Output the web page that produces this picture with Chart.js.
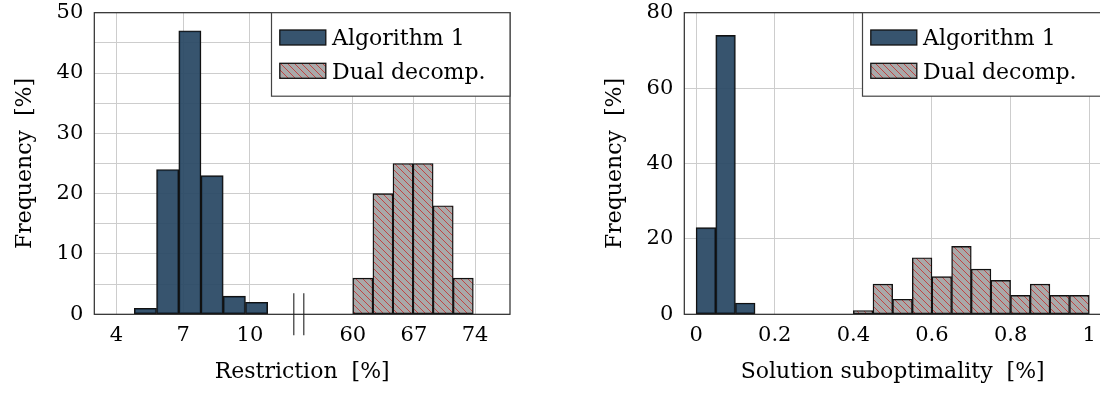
<!DOCTYPE html>
<html><head><meta charset="utf-8">
<script src="https://cdn.jsdelivr.net/npm/chart.js@4"></script>
<style>
html,body{margin:0;padding:0;background:#fff;overflow:hidden;width:1100px;height:394px;}
#w1{position:absolute;left:0;top:0;width:520px;height:394px;}
#w2{position:absolute;left:560px;top:0;width:560px;height:394px;}
canvas{display:block;}
</style></head><body>
<div id="w1"><canvas id="c1" width="520" height="394"></canvas></div>
<div id="w2"><canvas id="c2" width="560" height="394"></canvas></div>
<script>
// ---------- data ----------
const seriesNames = ['Algorithm 1', 'Dual decomp.'];

const restrictionAlgBinStart = [4.8, 5.8, 6.8, 7.8, 8.8, 9.8];
const restrictionAlgFreq = [1, 24, 47, 23, 3, 2];
const restrictionAlgBinWidth = 1;
const restrictionDualBinStart = [60.0, 62.3, 64.6, 66.9, 69.2, 71.5];
const restrictionDualFreq = [6, 20, 25, 25, 18, 6];
const restrictionDualBinWidth = 2.3;
const restrictionTicksLow = [4, 7, 10];
const restrictionTicksHigh = [60, 67, 74];
const freqTicksLeft = [0, 10, 20, 30, 40, 50];

const suboptAlgBinStart = [0, 0.05, 0.10];
const suboptAlgFreq = [23, 74, 3];
const suboptDualBinStart = [0.40, 0.45, 0.50, 0.55, 0.60, 0.65, 0.70, 0.75, 0.80, 0.85, 0.90, 0.95];
const suboptDualFreq = [1, 8, 4, 15, 10, 18, 12, 9, 5, 8, 5, 5];
const suboptBinWidth = 0.05;
const suboptTicks = [0, 0.2, 0.4, 0.6, 0.8, 1];
const freqTicksRight = [0, 20, 40, 60, 80];

// ---------- styling ----------
const FONT = 'DejaVu Serif';
Chart.defaults.font.family = FONT;
Chart.defaults.color = '#000';
const algColor = 'rgba(40,71,99,0.93)';
const gridColor = '#cdcdcd';
function hatch() {
  const s = 7, c = document.createElement('canvas');
  c.width = s; c.height = s;
  const g = c.getContext('2d');
  g.fillStyle = '#a9a9a9'; g.fillRect(0, 0, s, s);
  g.strokeStyle = '#c23a3a'; g.lineWidth = 0.9;
  g.beginPath();
  g.moveTo(0, 0); g.lineTo(s, s);
  g.moveTo(-1, s - 1); g.lineTo(1, s + 1);
  g.moveTo(s - 1, -1); g.lineTo(s + 1, 1);
  g.stroke();
  return g.createPattern(c, 'repeat');
}
const dualFill = hatch();

function bins(starts, width, freq) {
  return starts.map((s, i) => ({x: s + width / 2, y: freq[i]}));
}
function noPad(s) { s.paddingTop = 0; s.paddingBottom = 0; s.paddingLeft = 0; s.paddingRight = 0; }

const framePlugin = {
  id: 'frameLegend',
  afterDatasetsDraw(chart, args, o) {
    const {ctx, chartArea: a} = chart;
    ctx.save();
    ctx.strokeStyle = '#2b2b2b'; ctx.lineWidth = 1.2;
    ctx.strokeRect(a.left, a.top, a.right - a.left, a.bottom - a.top);
    if (o.breakAt !== undefined) {
      const px = chart.scales.x.getPixelForValue(o.breakAt);
      ctx.strokeStyle = '#222'; ctx.lineWidth = 1.1;
      ctx.beginPath();
      [-5, 5].forEach(d => { ctx.moveTo(px + d, a.bottom - 21); ctx.lineTo(px + d, a.bottom + 21); });
      ctx.stroke();
    }
    const lx = a.right - o.width, ly = a.top;
    ctx.fillStyle = '#fff'; ctx.fillRect(lx, ly, o.width, o.height);
    ctx.strokeStyle = '#444'; ctx.lineWidth = 1.2;
    ctx.strokeRect(lx, ly, o.width, o.height);
    ctx.font = '22px "' + FONT + '"';
    ctx.textBaseline = 'alphabetic'; ctx.textAlign = 'left';
    chart.data.datasets.forEach((ds, i) => {
      const sy = ly + 17.3 + i * 33.3;
      ctx.fillStyle = ds.backgroundColor;
      ctx.fillRect(lx + 8.3, sy, 46, 15);
      ctx.strokeStyle = '#111'; ctx.lineWidth = 1.3;
      ctx.strokeRect(lx + 8.3, sy, 46, 15);
      ctx.fillStyle = '#000';
      ctx.fillText(ds.label, lx + 60.5, sy + 15.3);
    });
    ctx.restore();
  }
};

function barDs(label, data, fill, axis) {
  const d = {label, data, backgroundColor: fill, borderColor: '#111', borderWidth: 1.4,
    borderSkipped: false, barPercentage: 1, categoryPercentage: 1, grouped: false};
  if (axis) d.xAxisID = axis;
  return d;
}

function yAxis(max, step, labels, width, titlePad) {
  return {
    type: 'linear', min: 0, max,
    border: {display: false},
    grid: {color: gridColor, lineWidth: 1, drawTicks: false},
    ticks: {stepSize: step, padding: 11, font: {size: 21, lineHeight: 1},
      callback: v => labels.includes(v) ? String(v) : ''},
    title: {display: true, text: 'Frequency  [%]', font: {size: 22}, padding: {top: titlePad, bottom: 0}},
    afterFit: s => { s.width = width; noPad(s); }
  };
}

// ---------- left chart ----------
const xMin = 3, xMax = 21.7, x2Min = 30.4, x2Max = 78;
const toMain = v => xMin + (v - x2Min) / (x2Max - x2Min) * (xMax - xMin);
const leftLabels = [...restrictionTicksLow, ...restrictionTicksHigh].map(String);

new Chart(document.getElementById('c1'), {
  type: 'bar',
  data: {datasets: [
    barDs(seriesNames[0], bins(restrictionAlgBinStart, restrictionAlgBinWidth, restrictionAlgFreq), algColor),
    barDs(seriesNames[1], bins(restrictionDualBinStart, restrictionDualBinWidth, restrictionDualFreq), dualFill, 'x2')
  ]},
  options: {
    responsive: false, animation: false, devicePixelRatio: 1,
    layout: {padding: {top: 12.7, right: 10, left: 0, bottom: 0}},
    plugins: {legend: {display: false}, tooltip: {enabled: false},
      frameLegend: {width: 238.5, height: 83.5, breakAt: 12.2}},
    scales: {
      x: {
        type: 'linear', min: xMin, max: xMax, offset: false, position: 'bottom',
        border: {display: false},
        grid: {color: gridColor, lineWidth: 1, drawTicks: false, offset: false},
        ticks: {padding: 9, autoSkip: false, maxRotation: 0, font: {size: 21},
          callback: (v, i) => leftLabels[i]},
        afterBuildTicks: s => {
          s.ticks = [...restrictionTicksLow.map(v => ({value: v})),
                     ...restrictionTicksHigh.map(v => ({value: toMain(v)}))];
        },
        title: {display: true, text: 'Restriction  [%]', font: {size: 22}, padding: {top: 0, bottom: 9}},
        afterFit: s => { s.height = 79.7; noPad(s); }
      },
      x2: {type: 'linear', min: x2Min, max: x2Max, display: false, offset: false, position: 'bottom',
        afterFit: s => { s.height = 0; noPad(s); }},
      y: yAxis(50, 5, freqTicksLeft, 94.3, 11.8)
    }
  },
  plugins: [framePlugin]
});

// ---------- right chart ----------
new Chart(document.getElementById('c2'), {
  type: 'bar',
  data: {datasets: [
    barDs(seriesNames[0], bins(suboptAlgBinStart, suboptBinWidth, suboptAlgFreq), algColor),
    barDs(seriesNames[1], bins(suboptDualBinStart, suboptBinWidth, suboptDualFreq), dualFill)
  ]},
  options: {
    responsive: false, animation: false, devicePixelRatio: 1,
    layout: {padding: {top: 12.7, right: 19, left: 0, bottom: 0}},
    plugins: {legend: {display: false}, tooltip: {enabled: false},
      frameLegend: {width: 238.5, height: 83.5}},
    scales: {
      x: {
        type: 'linear', min: -0.03, max: 1.03, offset: false,
        border: {display: false},
        grid: {color: gridColor, lineWidth: 1, drawTicks: false, offset: false},
        ticks: {padding: 9, autoSkip: false, maxRotation: 0, font: {size: 21},
          callback: (v, i) => String(suboptTicks[i])},
        afterBuildTicks: s => { s.ticks = suboptTicks.map(v => ({value: v})); },
        title: {display: true, text: 'Solution suboptimality  [%]', font: {size: 22}, padding: {top: 0, bottom: 9}},
        afterFit: s => { s.height = 79.7; noPad(s); }
      },
      y: yAxis(80, 20, freqTicksRight, 124.3, 41.8)
    }
  },
  plugins: [framePlugin]
});
</script>
</body></html>
